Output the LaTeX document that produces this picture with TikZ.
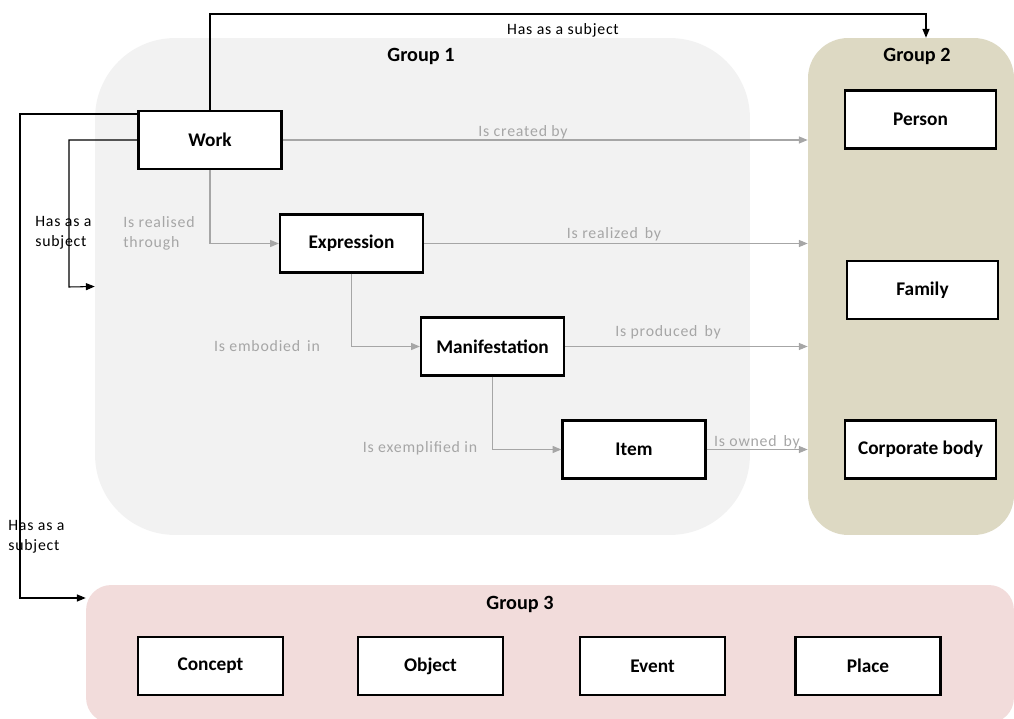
\documentclass[tikz,border=0pt]{standalone}
\usepackage{fontspec}
\setmainfont{Carlito}
\usetikzlibrary{arrows.meta}
\definecolor{gOne}{HTML}{F2F2F2}
\definecolor{gTwo}{HTML}{DDD9C3}
\definecolor{gThree}{HTML}{F2DCDB}
\definecolor{relgray}{HTML}{A6A6A6}
\tikzset{
  entity/.style={draw=black, line width=1.3pt, fill=white, minimum width=2.86cm, minimum height=1.16cm, font=\fontsize{11}{13}\selectfont\bfseries, inner sep=0pt},
  grp/.style={inner sep=0pt, draw=none},
  grplabel/.style={font=\fontsize{11.5}{13}\selectfont\bfseries},
  rel/.style={draw=relgray, line width=0.6pt, -{Triangle[length=5pt,width=4pt]}},
  rellabel/.style={text=relgray, font=\fontsize{9}{11.3}\selectfont\addfontfeatures{LetterSpace=5}, inner sep=0pt},
  subj/.style={draw=black, line width=0.6pt, -{Triangle[length=5pt,width=4pt]}},
  subjlabel/.style={text=black, font=\fontsize{9}{11.3}\selectfont\addfontfeatures{LetterSpace=5}, inner sep=0pt, align=left}
}
\begin{document}
\begin{tikzpicture}[x=0.02cm,y=-0.02cm]
\useasboundingbox (0,0) rectangle (1014,719);
% groups
\node[grp, fill=gOne, minimum width=13.1cm, minimum height=9.94cm, rounded corners=1.6cm] (g1) at (422.5,286.5) {};
\node[grp, fill=gTwo, minimum width=4.12cm, minimum height=9.94cm, rounded corners=0.8cm] (g2) at (911,286.5) {};
\node[grp, fill=gThree, minimum width=18.56cm, minimum height=2.76cm, rounded corners=0.5cm] (g3) at (550,654) {};
\node[grplabel] (l1) at (421,56) {Group 1};
\node[grplabel] (l2) at (917,56) {Group 2};
\node[grplabel] (l3) at (520,604) {Group 3};
% group 1 entities
\node[entity] (work) at (210,140) {Work};
\node[entity] (expr) at (351.5,243.5) {Expression};
\node[entity] (man) at (492.5,346.5) {Manifestation};
\node[entity] (item) at (634,449.5) {Item};
% group 2
\node[entity, minimum width=3.02cm] (person) at (920.5,119.5) {Person};
\node[entity, minimum width=3.02cm] (family) at (922.5,290) {Family};
\node[entity, minimum width=3.02cm] (corp) at (920.5,449.5) {Corporate body};
% group 3
\node[entity, minimum width=2.9cm] (concept) at (210.5,666) {Concept};
\node[entity, minimum width=2.9cm] (object) at (430.5,666) {Object};
\node[entity, minimum width=2.9cm] (event) at (652.5,666) {Event};
\node[entity, minimum width=2.9cm] (place) at (868,666) {Place};
% gray relations
\draw[rel] (work.east) -- (g2.west |- work.east);
\draw[rel] (expr.east) -- (g2.west |- expr.east);
\draw[rel] (man.east) -- (g2.west |- man.east);
\draw[rel] (item.east) -- (g2.west |- item.east);
\draw[rel] (work.south) |- (expr.west);
\draw[rel] (expr.south) |- (man.west);
\draw[rel] (man.south) |- (item.west);
\node[rellabel] (rc) at (523,132) {Is created by};
\node[rellabel] (rr) at (614,234) {Is realized \,by};
\node[rellabel] (rp) at (668,332) {Is produced \,by};
\node[rellabel] (ro) at (757,442) {Is owned \,by};
\node[rellabel, anchor=west, align=left] (rt) at (123,233) {Is realised\\through};
\node[rellabel] (re) at (267,346) {Is embodied \,in};
\node[rellabel] (rx) at (420,448) {Is exemplified in};
% subject relations
\coordinate (tc) at (926,14);
\draw[subj] (work.north) |- (tc) -- (tc |- g2.north);
\node[subjlabel] (s1) at (563,30) {Has as a subject};
\draw[subj] (work.west |- 0,114) -| (20,598) -- (g3.west |- 0,598);
\node[subjlabel, anchor=west] (s2) at (8,537) {Has as a\\subject};
\draw[subj] (work.west) -| (69,287) -- (g1.west);
\node[subjlabel, anchor=west] (s3) at (35,233) {Has as a\\subject};
\end{tikzpicture}
\end{document}
